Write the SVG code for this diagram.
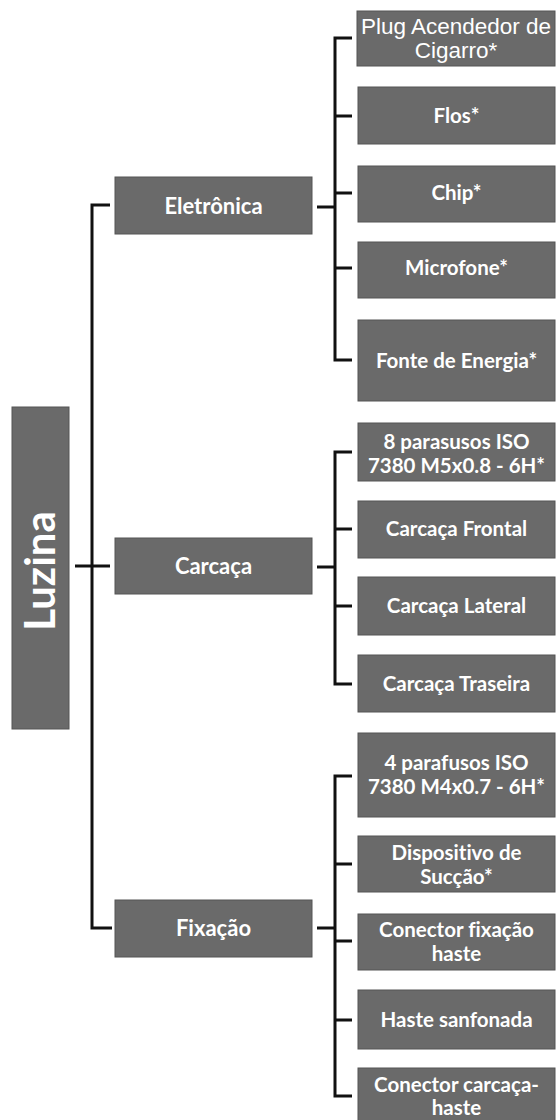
<svg xmlns="http://www.w3.org/2000/svg" width="557" height="1120" viewBox="0 0 557 1120">
<style>
.box{fill:#6a6a6a;stroke:#555;stroke-width:1}
.t{fill:#fff;font-family:Lato,"Open Sans",sans-serif;font-weight:bold;font-size:20.5px;text-anchor:middle;font-variant-ligatures:none}
.t1{fill:#fff;font-family:Lato,"Open Sans",sans-serif;font-weight:bold;font-size:22px;text-anchor:middle;font-variant-ligatures:none}
.ta{fill:#fff;font-family:"Liberation Sans",Arial,sans-serif;font-size:22.5px;text-anchor:middle}
.c{fill:none;stroke:#111;stroke-width:3}
</style>
<g id="connectors">
<path class="c" d="M75 566 H110"/>
<path class="c" d="M110 205 H92 V928 H112"/>
<path class="c" d="M317 207 H335"/>
<path class="c" d="M352 38 H335 V360 H352"/>
<path class="c" d="M335 116 H352 M335 193 H352 M335 268 H352"/>
<path class="c" d="M317 567 H335"/>
<path class="c" d="M352 452 H335 V684 H352"/>
<path class="c" d="M335 529 H352 M335 606 H352"/>
<path class="c" d="M317 928 H335"/>
<path class="c" d="M352 776 H335 V1096 H352"/>
<path class="c" d="M335 864 H352 M335 941 H352 M335 1020 H352"/>
</g>
<g id="luzina">
<rect class="box" x="12" y="407" width="57" height="322"/>
<text class="t" style="font-size:42px" transform="translate(55,571) rotate(-90)">Luzina</text>
</g>
<g id="eletronica">
<rect class="box" x="115" y="177" width="197" height="57"/>
<text class="t1" x="213.5" y="214">Eletrônica</text>
</g>
<g id="carcaca">
<rect class="box" x="115" y="538" width="197" height="56"/>
<text class="t1" x="213.5" y="574">Carcaça</text>
</g>
<g id="fixacao">
<rect class="box" x="115" y="900" width="197" height="57"/>
<text class="t1" x="213.5" y="936">Fixação</text>
</g>
<g id="plug">
<rect class="box" x="357" y="11" width="198" height="55"/>
<text class="ta" x="456" y="34">Plug Acendedor de</text>
<text class="ta" x="456" y="58">Cigarro*</text>
</g>
<g id="flos">
<rect class="box" x="358" y="87" width="197" height="57"/>
<text class="t" x="456.5" y="123">Flos*</text>
</g>
<g id="chip">
<rect class="box" x="358" y="166" width="197" height="56"/>
<text class="t" x="456.5" y="200">Chip*</text>
</g>
<g id="microfone">
<rect class="box" x="358" y="242" width="197" height="56"/>
<text class="t" x="456.5" y="275">Microfone*</text>
</g>
<g id="fonte">
<rect class="box" x="358" y="320" width="197" height="81"/>
<text class="t" x="456.5" y="368">Fonte de Energia*</text>
</g>
<g id="parasusos">
<rect class="box" x="358" y="423" width="197" height="58"/>
<text class="t" x="456.5" y="449">8 parasusos ISO</text>
<text class="t" x="456.5" y="473">7380 M5x0.8 - 6H*</text>
</g>
<g id="frontal">
<rect class="box" x="358" y="501" width="197" height="57"/>
<text class="t" x="456.5" y="536">Carcaça Frontal</text>
</g>
<g id="lateral">
<rect class="box" x="358" y="577" width="197" height="58"/>
<text class="t" x="456.5" y="613">Carcaça Lateral</text>
</g>
<g id="traseira">
<rect class="box" x="358" y="655" width="197" height="57"/>
<text class="t" x="456.5" y="691">Carcaça Traseira</text>
</g>
<g id="parafusos">
<rect class="box" x="358" y="733" width="197" height="84"/>
<text class="t" x="456.5" y="770">4 parafusos ISO</text>
<text class="t" x="456.5" y="794">7380 M4x0.7 - 6H*</text>
</g>
<g id="dispositivo">
<rect class="box" x="358" y="836" width="197" height="56"/>
<text class="t" x="456.5" y="860">Dispositivo de</text>
<text class="t" x="456.5" y="884">Sucção*</text>
</g>
<g id="conector-fixacao">
<rect class="box" x="358" y="914" width="197" height="56"/>
<text class="t" x="456.5" y="937">Conector fixação</text>
<text class="t" x="456.5" y="961">haste</text>
</g>
<g id="haste">
<rect class="box" x="358" y="990" width="197" height="59"/>
<text class="t" x="456.5" y="1027">Haste sanfonada</text>
</g>
<g id="conector-carcaca">
<rect class="box" x="358" y="1068" width="197" height="60"/>
<text class="t" x="456.5" y="1092">Conector carcaça-</text>
<text class="t" x="456.5" y="1115">haste</text>
</g>
</svg>
